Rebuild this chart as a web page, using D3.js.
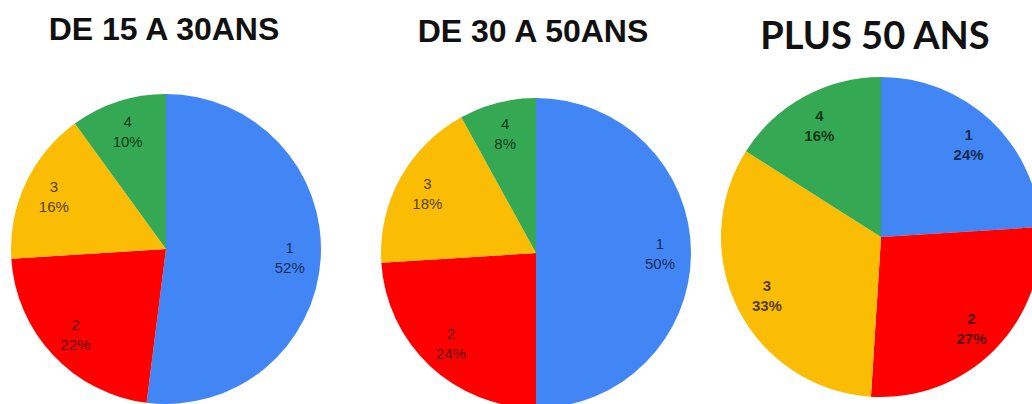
<!DOCTYPE html>
<html>
<head>
<meta charset="utf-8">
<script src="https://cdn.jsdelivr.net/npm/d3@7"></script>
<style>
  body { margin: 0; background: #fff; }
  svg { display: block; }
</style>
</head>
<body>
<svg class="main-chart" width="1032" height="404"></svg>
<script>
// chart values
var titles = ["DE 15 A 30ANS", "DE 30 A 50ANS", "PLUS 50 ANS"];
var categories = ["1", "2", "3", "4"];
var young = [52, 22, 16, 10];
var middle = [50, 24, 18, 8];
var senior = [24, 27, 33, 16];
var colors = ["#4285F4", "#FF0000", "#FBBC04", "#34A853"];

var series = [young, middle, senior];

// where each pie sits
var layout = [
  { cx: 166, cy: 249, r: 155, tx: 164, ty: 40, font: "Liberation Sans, Arial, sans-serif", size: 32, lblWeight: "normal" },
  { cx: 536, cy: 253, r: 155, tx: 533, ty: 42, font: "Liberation Sans, Arial, sans-serif", size: 32, lblWeight: "normal" },
  { cx: 881, cy: 237, r: 160, tx: 875, ty: 49, font: "Lato, sans-serif", size: 38, lblWeight: "bold" }
];

var svg = d3.select("svg.main-chart");
var pie = d3.pie().sort(null).value(function(d) { return d; });
var fillScale = d3.scaleOrdinal().domain(categories).range(colors);

series.forEach(function(values, k) {
  var L = layout[k];
  var arc = d3.arc().innerRadius(0).outerRadius(L.r);
  var labelArc = d3.arc().innerRadius(L.r * 0.8).outerRadius(L.r * 0.8);
  var total = d3.sum(values);

  var arcs = pie(values).map(function(a, i) { a.cat = categories[i]; return a; });

  svg.append("text")
    .attr("class", "title")
    .attr("x", L.tx)
    .attr("y", L.ty)
    .attr("text-anchor", "middle")
    .attr("font-family", L.font)
    .attr("font-weight", "bold")
    .attr("font-size", L.size + "px")
    .attr("fill", "#111")
    .text(titles[k]);

  var g = svg.append("g")
    .attr("transform", "translate(" + L.cx + "," + L.cy + ")");

  g.selectAll("path.slice")
    .data(arcs)
    .enter()
    .append("path")
    .attr("class", "slice")
    .attr("d", arc)
    .style("fill", function(d) { return fillScale(d.cat); });

  var lbl = g.selectAll("text.lbl")
    .data(arcs)
    .enter()
    .append("text")
    .attr("class", "lbl")
    .attr("text-anchor", "middle")
    .attr("font-family", "Liberation Sans, Arial, sans-serif")
    .attr("font-size", "15px")
    .attr("font-weight", L.lblWeight)
    .attr("fill", "#000")
    .attr("fill-opacity", 0.7)
    .attr("transform", function(d) {
      var c = labelArc.centroid(d);
      return "translate(" + c[0] + "," + c[1] + ")";
    });

  lbl.append("tspan")
    .attr("x", 0)
    .attr("y", -4)
    .text(function(d) { return d.cat; });

  lbl.append("tspan")
    .attr("x", 0)
    .attr("y", 16)
    .text(function(d) { return Math.round(d.value / total * 100) + "%"; });
});
</script>
</body>
</html>
